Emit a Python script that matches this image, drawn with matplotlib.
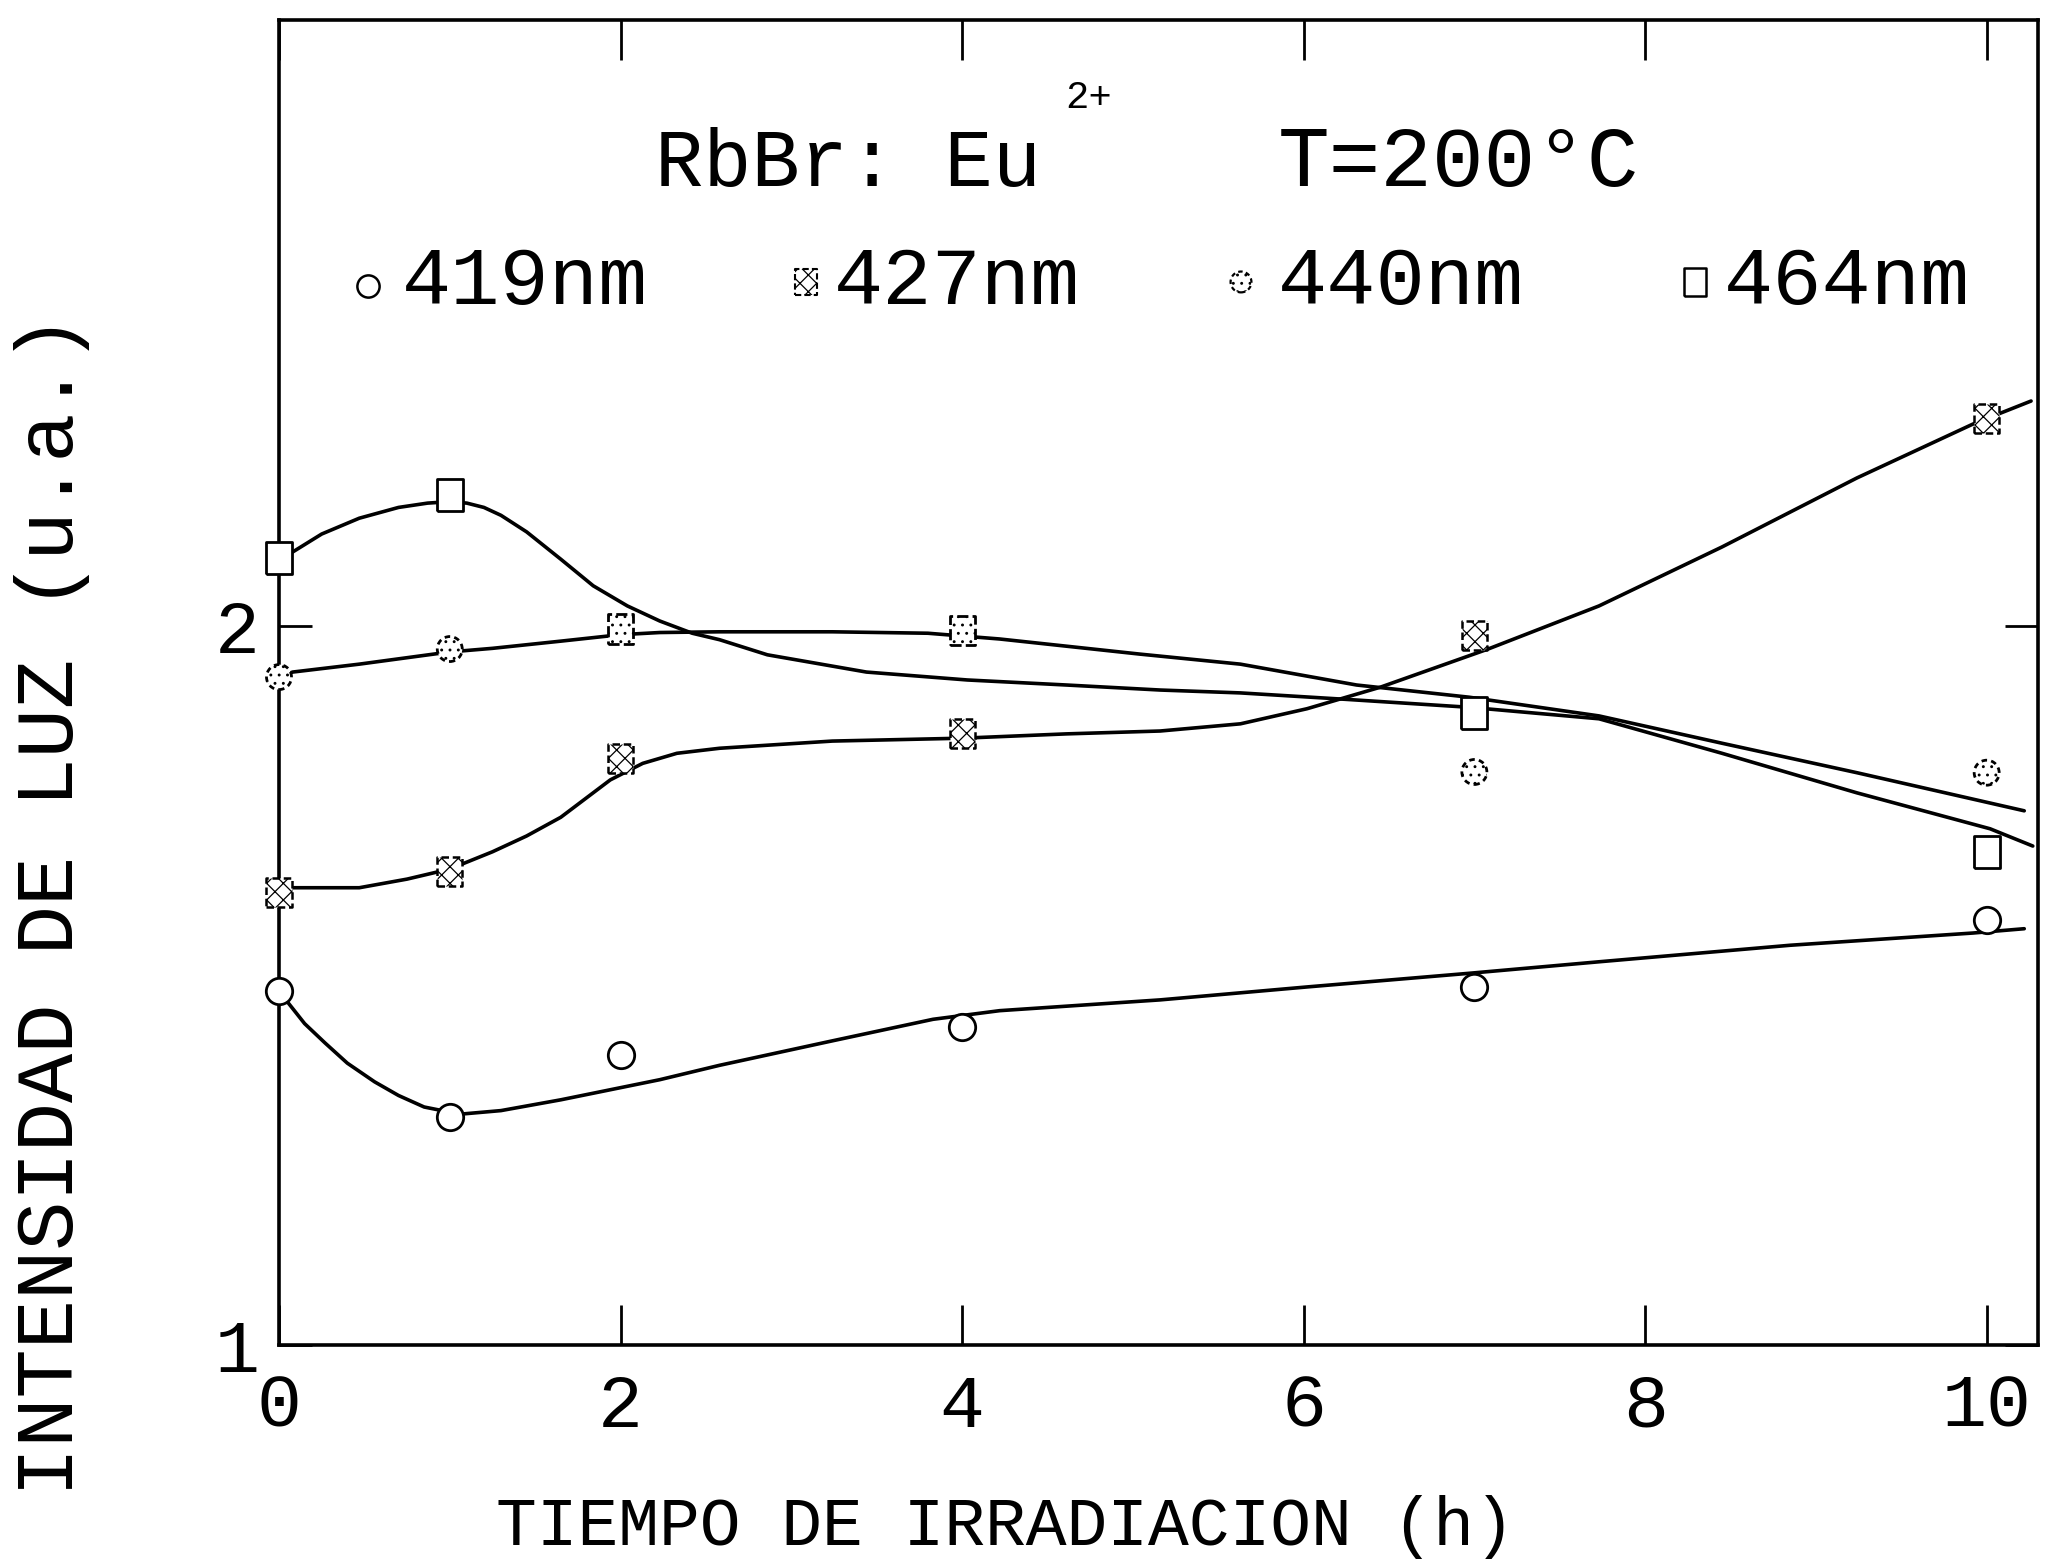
import numpy as np
import matplotlib
matplotlib.use('Agg')
import matplotlib.pyplot as plt

plt.rcParams['font.family'] = ['Liberation Mono', 'DejaVu Sans Mono', 'DejaVu Sans']
plt.rcParams['hatch.linewidth'] = 0.9
plt.rcParams['hatch.color'] = 'black'

# measured points (tiempo en h, intensidad u.a.)
t_pts = [0, 1, 2, 4, 7, 10]
i419 = [1.492, 1.317, 1.403, 1.442, 1.498, 1.591]
i427 = [1.629, 1.659, 1.816, 1.850, 1.987, 2.289]
t440_o = [0, 1, 7, 10]
i440_o = [1.929, 1.968, 1.797, 1.796]
t440_s = [2, 4]
i440_s = [1.996, 1.994]
t464 = [0, 1, 7, 10]
i464 = [2.095, 2.182, 1.879, 1.686]

# hand drawn curves
c419_t = [0.0, 0.07, 0.15, 0.27, 0.4, 0.56, 0.7, 0.85, 1.06, 1.3, 1.65, 2.23, 2.58, 3.24, 3.83, 4.22, 5.16, 6.02, 6.97, 7.73, 8.85, 9.92, 10.22]
c419_v = [1.492, 1.471, 1.447, 1.420, 1.392, 1.366, 1.347, 1.331, 1.321, 1.326, 1.341, 1.369, 1.389, 1.423, 1.453, 1.465, 1.480, 1.498, 1.517, 1.533, 1.556, 1.573, 1.579]

c427_t = [0.0, 0.08, 0.47, 0.75, 1.0, 1.25, 1.45, 1.65, 1.94, 2.13, 2.33, 2.58, 3.24, 4.0, 4.61, 5.16, 5.63, 6.02, 6.45, 7.08, 7.73, 8.45, 9.24, 9.92, 10.26]
c427_v = [1.629, 1.636, 1.636, 1.648, 1.662, 1.686, 1.708, 1.734, 1.786, 1.809, 1.823, 1.830, 1.840, 1.844, 1.850, 1.854, 1.864, 1.885, 1.915, 1.968, 2.028, 2.110, 2.206, 2.281, 2.313]

c440_t = [0.0, 0.08, 0.47, 1.0, 1.25, 1.65, 2.0, 2.23, 2.58, 3.24, 3.8, 4.22, 5.04, 5.63, 6.31, 6.97, 7.73, 8.45, 9.24, 10.22]
c440_v = [1.929, 1.936, 1.947, 1.964, 1.969, 1.979, 1.988, 1.991, 1.992, 1.992, 1.990, 1.982, 1.961, 1.947, 1.918, 1.901, 1.875, 1.837, 1.796, 1.743]

c464_t = [0.0, 0.08, 0.25, 0.47, 0.7, 0.87, 1.0, 1.1, 1.2, 1.3, 1.45, 1.65, 1.84, 2.04, 2.23, 2.42, 2.58, 2.86, 3.44, 4.03, 4.61, 5.16, 5.63, 6.25, 6.97, 7.73, 8.45, 9.24, 10.02, 10.27]
c464_v = [2.095, 2.103, 2.128, 2.150, 2.165, 2.171, 2.173, 2.171, 2.165, 2.154, 2.131, 2.093, 2.056, 2.028, 2.007, 1.990, 1.981, 1.960, 1.936, 1.925, 1.918, 1.911, 1.907, 1.898, 1.887, 1.871, 1.823, 1.768, 1.718, 1.694]

xticks = [0, 2, 4, 6, 8, 10]
yticks = [1, 2]

# custom marker shapes (slightly tall squares)
sq_tall = [(-0.4, -0.5), (0.4, -0.5), (0.4, 0.5), (-0.4, 0.5), (-0.4, -0.5)]
sq_427 = [(-0.43, -0.5), (0.43, -0.5), (0.43, 0.5), (-0.43, 0.5), (-0.43, -0.5)]

fig = plt.figure(figsize=(20.56, 15.63), dpi=100)
ax = fig.add_axes([0.1357, 0.1395, 0.8555, 0.8477])

lw = 2.6
for ct, cv in [(c419_t, c419_v), (c427_t, c427_v), (c440_t, c440_v), (c464_t, c464_v)]:
    ax.plot(ct, cv, color='black', lw=lw, solid_capstyle='round', solid_joinstyle='round', zorder=2)

ax.scatter(t_pts, i419, s=19**2, marker='o', facecolor='white', edgecolor='black', linewidths=2.0,
           zorder=3, clip_on=False)
ax.scatter(t_pts, i427, s=21**2, marker=sq_427, facecolor='white', edgecolor='black', linewidths=1.8,
           hatch='xx', linestyle=(0, (3, 1.5)), zorder=3, clip_on=False)
ax.scatter(t440_o, i440_o, s=18**2, marker='o', facecolor='white', edgecolor='black', linewidths=2.0,
           hatch='..', linestyle=(0, (2, 1.5)), zorder=3, clip_on=False)
ax.scatter(t440_s, i440_s, s=21**2, marker=sq_427, facecolor='white', edgecolor='black', linewidths=2.0,
           hatch='..', linestyle=(0, (4, 1.5)), zorder=3, clip_on=False)
ax.scatter(t464, i464, s=23**2, marker=sq_tall, facecolor='white', edgecolor='black', linewidths=2.0,
           zorder=3, clip_on=False)

ax.set_xlim(0, 10.3)
ax.set_ylim(1, 2.843)
ax.set_xticks(xticks)
ax.set_xticklabels([str(v) for v in xticks])
ax.set_yticks(yticks)
ax.set_yticklabels([str(v) for v in yticks])
ax.tick_params(axis='x', direction='in', length=29, width=2, top=True, labeltop=False, pad=20, labelsize=54)
ax.tick_params(axis='y', direction='in', length=24, width=2, right=True, pad=14, labelsize=54)
for sp in ax.spines.values():
    sp.set_linewidth(2.6)

# title and legend written inside the frame
fig.text(0.3186, 0.881, 'RbBr: Eu', fontsize=58, ha='left', va='baseline')
fig.text(0.518, 0.931, '2+', fontsize=28, ha='left', va='baseline')
fig.text(0.6216, 0.881, 'T=200°C', fontsize=62, ha='left', va='baseline')

leg_txt = ['419nm', '427nm', '440nm', '464nm']
leg_tx = [0.1955, 0.4056, 0.6216, 0.8385]
leg_mx = [0.179, 0.392, 0.6036, 0.8244]
for x, s in zip(leg_tx, leg_txt):
    fig.text(x, 0.8055, s, fontsize=59, ha='left', va='baseline')

ax.scatter([leg_mx[0]], [0.817], s=16**2, marker='o', facecolor='white', edgecolor='black', linewidths=1.8,
           transform=fig.transFigure, clip_on=False, zorder=4)
ax.scatter([leg_mx[1]], [0.8196], s=19**2, marker=sq_427, facecolor='white', edgecolor='black', linewidths=1.5,
           hatch='xx', linestyle=(0, (3, 1.5)), transform=fig.transFigure, clip_on=False, zorder=4)
ax.scatter([leg_mx[2]], [0.8196], s=15**2, marker='o', facecolor='white', edgecolor='black', linewidths=1.6,
           hatch='..', linestyle=(0, (2, 1.5)), transform=fig.transFigure, clip_on=False, zorder=4)
ax.scatter([leg_mx[3]], [0.8196], s=20**2, marker=sq_tall, facecolor='white', edgecolor='black', linewidths=1.8,
           transform=fig.transFigure, clip_on=False, zorder=4)

fig.text(0.0253, 0.421, 'INTENSIDAD DE LUZ (u.a.)', fontsize=59, rotation=90, ha='center', va='center')
fig.text(0.489, 0.023, 'TIEMPO DE IRRADIACION (h)', fontsize=49, ha='center', va='center')

fig.savefig('out.png', dpi=100)
